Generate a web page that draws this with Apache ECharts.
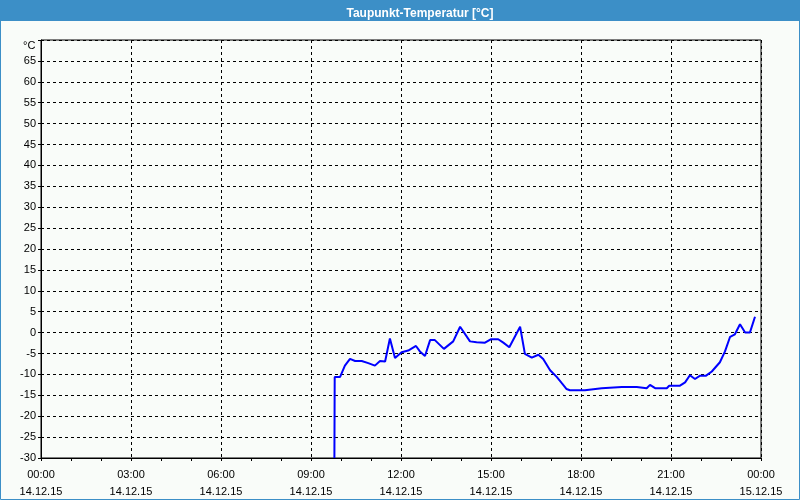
<!DOCTYPE html>
<html>
<head>
<meta charset="utf-8">
<script src="https://cdn.jsdelivr.net/npm/echarts@6/dist/echarts.min.js"></script>
<style>
html,body{margin:0;padding:0;background:#f9fcf9;}
#c{width:800px;height:500px;}
</style>
</head>
<body>
<div id="c"></div>
<script>
// Time of day in hours (14.12.15)
var hours = [9.78, 9.79, 9.97, 10.13, 10.3, 10.47, 10.69, 10.91, 11.13, 11.3, 11.47, 11.63, 11.8, 12.02, 12.24, 12.5, 12.63, 12.8, 12.97, 13.13, 13.43, 13.74, 13.97, 14.3, 14.52, 14.8, 14.99, 15.24, 15.41, 15.61, 15.97, 16.13, 16.36, 16.58, 16.74, 16.97, 17.19, 17.36, 17.52, 17.63, 18.13, 18.19, 18.69, 19.36, 19.86, 20.19, 20.3, 20.47, 20.86, 20.94, 21.3, 21.47, 21.63, 21.8, 21.97, 22.17, 22.36, 22.63, 22.8, 22.97, 23.13, 23.3, 23.47, 23.63, 23.8];
// Dew point in °C
var dewPoint = [-30, -10.6, -10.6, -7.9, -6.3, -6.8, -6.8, -7.3, -7.9, -6.8, -6.9, -1.4, -6.1, -4.7, -4.3, -3.2, -4.5, -5.6, -1.8, -1.8, -3.9, -2.1, 1.4, -2.1, -2.3, -2.4, -1.6, -1.6, -2.4, -3.5, 1.4, -5.1, -6.0, -5.3, -6.3, -9.0, -10.6, -12.1, -13.5, -13.8, -13.8, -13.5, -13.3, -13.0, -13.0, -13.3, -12.5, -13.3, -13.3, -12.7, -12.7, -11.9, -10.2, -11.1, -10.3, -10.3, -9.3, -7.1, -4.5, -1.0, -0.4, 2.0, 0.0, 0.0, 3.8];
var xTickHours = [0, 3, 6, 9, 12, 15, 18, 21, 24];
var xTickDates = ['14.12.15', '14.12.15', '14.12.15', '14.12.15', '14.12.15', '14.12.15', '14.12.15', '14.12.15', '15.12.15'];
var titleText = 'Taupunkt-Temperatur [°C]';
var unitText = '°C';

var seriesData = hours.map(function (h, i) { return [h, dewPoint[i]]; });
function pad(n) { return (n < 10 ? '0' : '') + n; }

var chart = echarts.init(document.getElementById('c'), null, {renderer: 'canvas'});
var font = 'Liberation Sans, Arial, sans-serif';
chart.setOption({
  backgroundColor: '#f9fcf9',
  animation: false,
  title: {
    text: titleText,
    left: 415,
    top: 3,
    textAlign: 'center',
    textStyle: {color: '#ffffff', fontSize: 12, fontWeight: 'bold', fontFamily: font}
  },
  graphic: [
    {type: 'rect', z: -1, shape: {x: 0, y: 0, width: 800, height: 21}, style: {fill: '#3c8fc7'}},
    {type: 'rect', z: 100, shape: {x: 0.5, y: 0.5, width: 799, height: 499}, style: {fill: null, stroke: '#3c8fc7', lineWidth: 1}},
    {type: 'text', left: 23, top: 40, style: {text: unitText, fill: '#000', font: '11px ' + font}}
  ],
  grid: {left: 41, right: 39, top: 40, bottom: 40, show: true, borderColor: '#000', borderWidth: 1, backgroundColor: 'transparent'},
  xAxis: {
    type: 'value', min: 0, max: 24, interval: 3,
    axisLine: {onZero: false, lineStyle: {color: '#000', width: 1}},
    axisTick: {show: true, length: 3, lineStyle: {color: '#000'}},
    minorTick: {show: true, splitNumber: 3, length: 3, lineStyle: {color: '#000'}},
    splitLine: {show: true, lineStyle: {color: '#000', type: [3, 3], width: 1}},
    axisLabel: {
      color: '#000', fontSize: 11, fontFamily: font, margin: 8, lineHeight: 17,
      formatter: function (v) {
        var i = xTickHours.indexOf(v);
        return pad(v % 24) + ':00\n' + (i >= 0 ? xTickDates[i] : '');
      }
    }
  },
  yAxis: {
    type: 'value', min: -30, max: 70, interval: 5,
    axisLine: {show: true, onZero: false, lineStyle: {color: '#000', width: 1}},
    axisTick: {show: true, length: 3, lineStyle: {color: '#000'}},
    splitLine: {show: true, lineStyle: {color: '#000', type: [3, 3], width: 1}},
    axisLabel: {
      color: '#000', fontSize: 11, fontFamily: font, margin: 5, padding: [4, 0, 0, 0],
      formatter: function (v) { return v === 70 ? '' : String(v); }
    }
  },
  series: [{
    type: 'line',
    data: seriesData,
    showSymbol: false,
    lineStyle: {color: '#0000ff', width: 2},
    clip: true
  }]
});
</script>
</body>
</html>
